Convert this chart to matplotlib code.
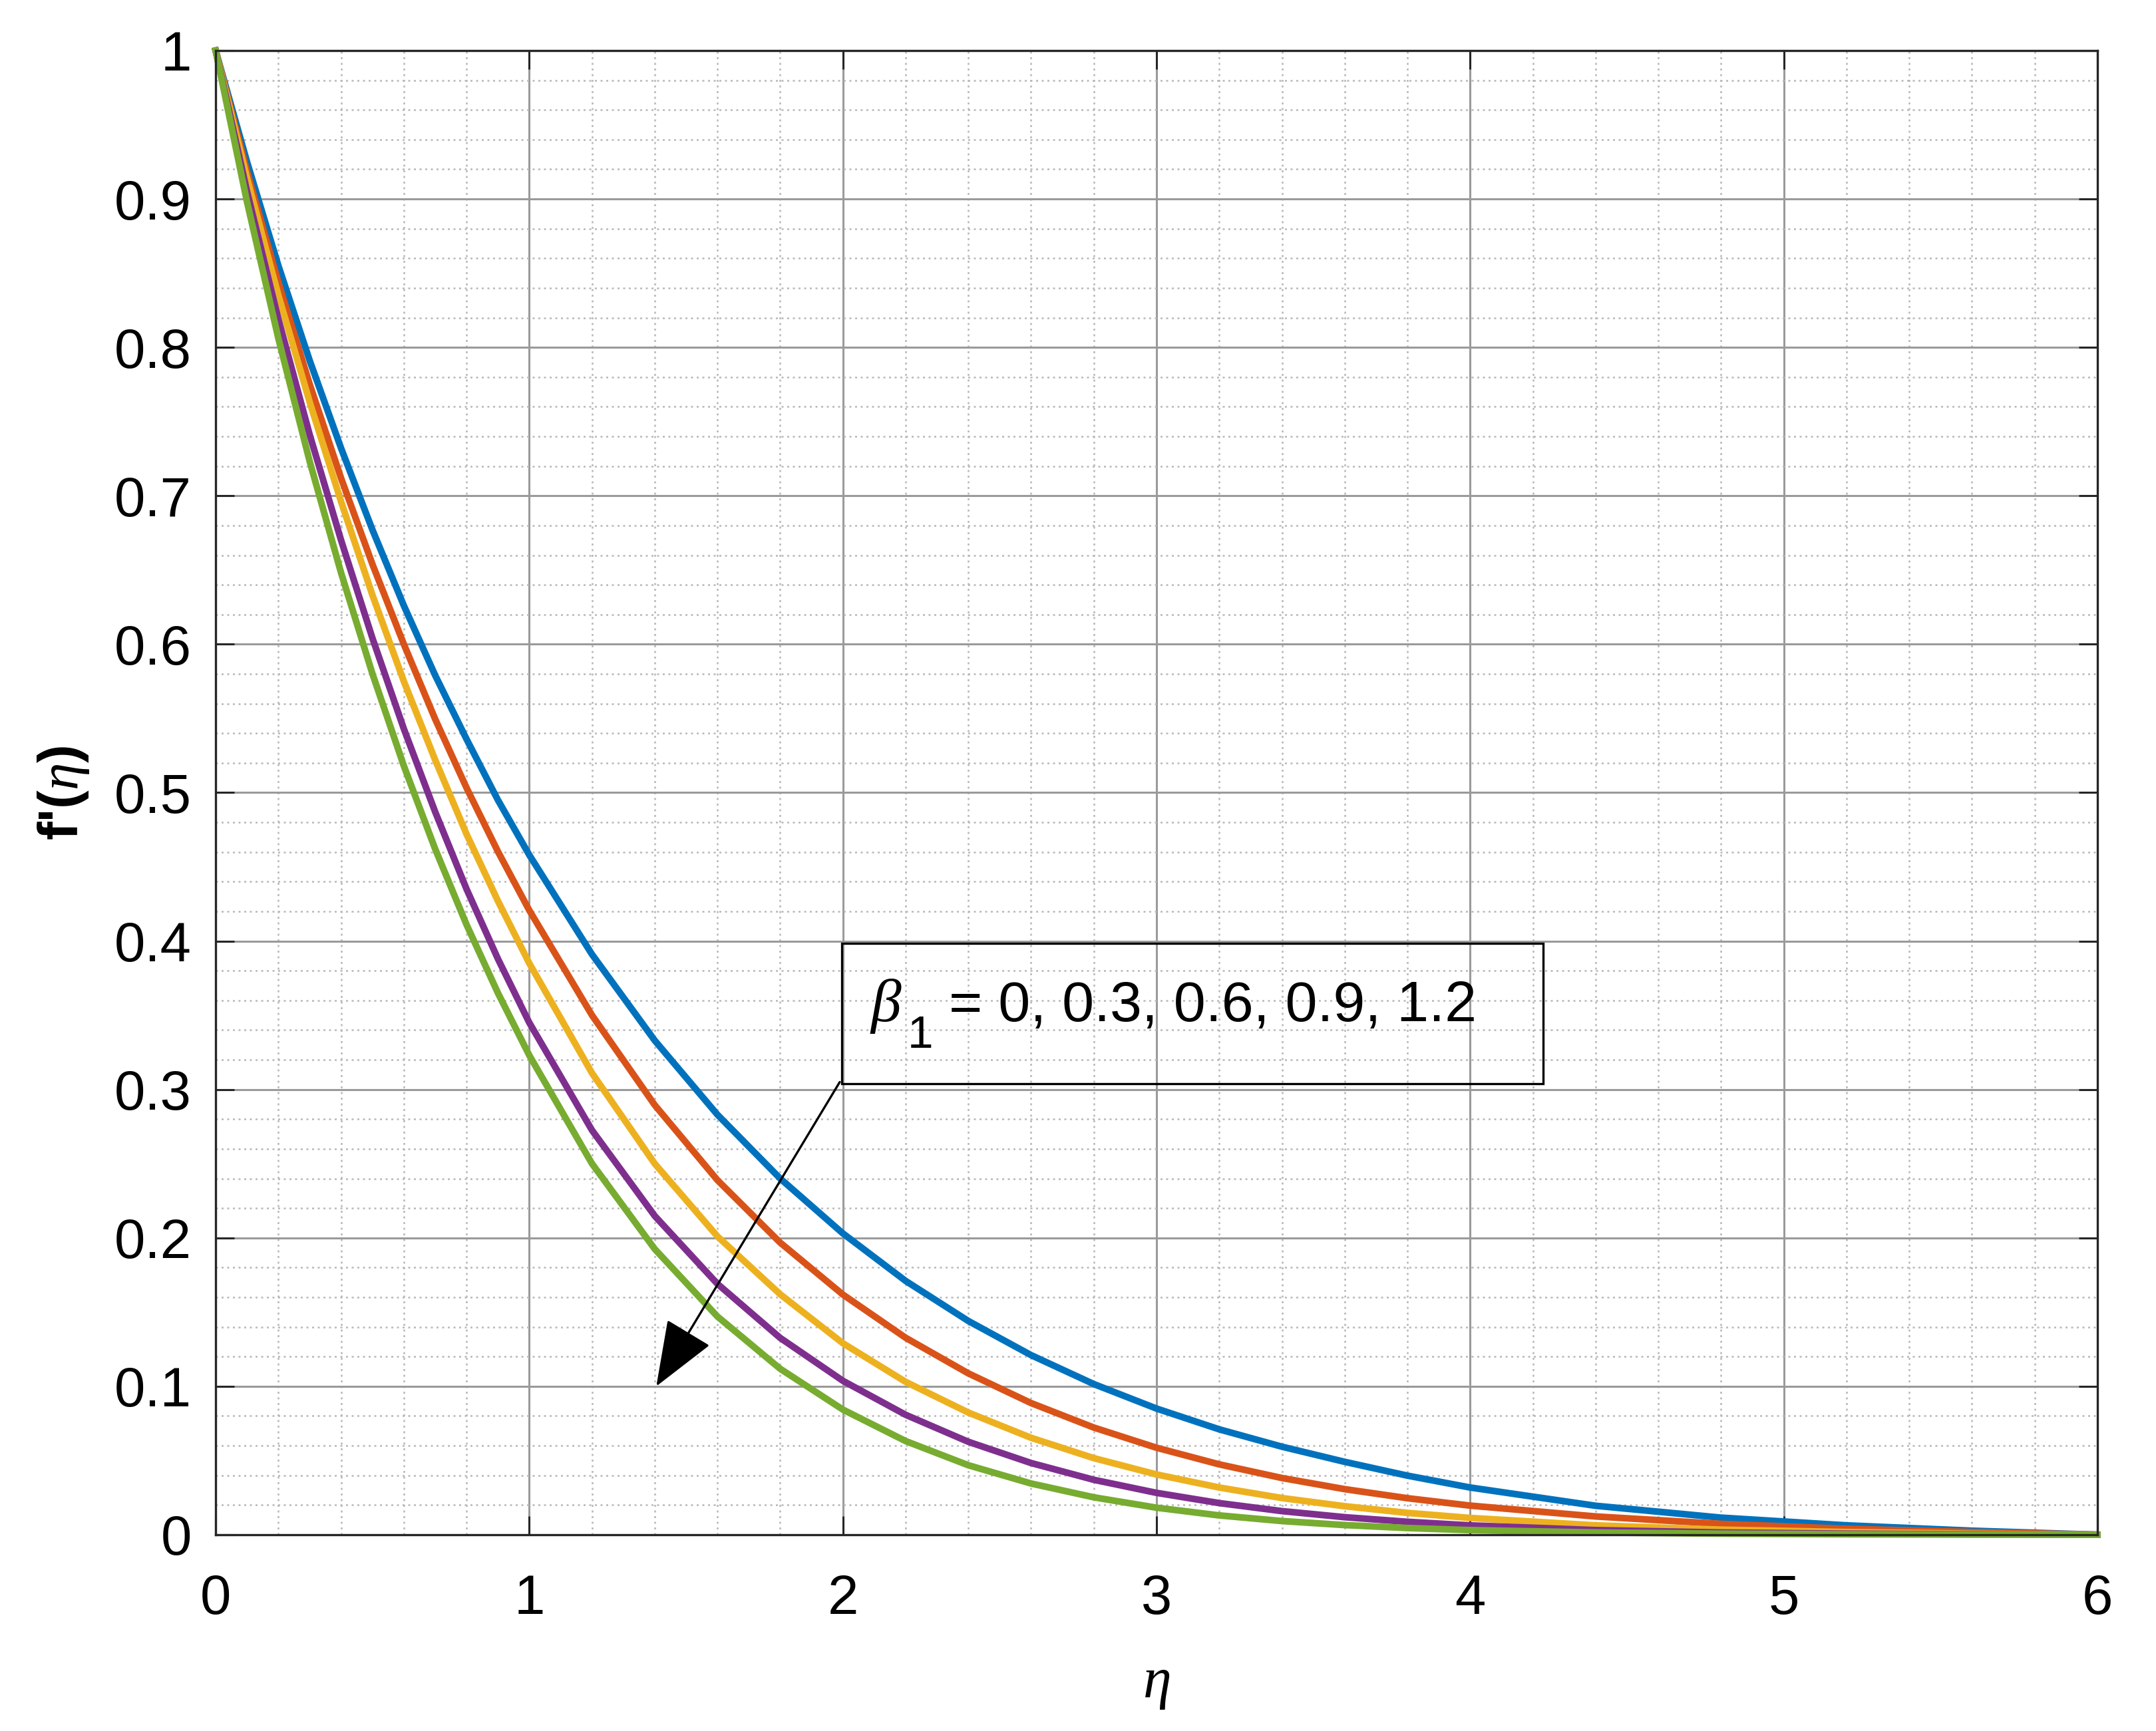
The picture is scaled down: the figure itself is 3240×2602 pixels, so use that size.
import matplotlib
matplotlib.use('Agg')
import matplotlib.pyplot as plt
from matplotlib.ticker import MultipleLocator, FuncFormatter
from matplotlib.patches import Rectangle

plt.rcParams['font.family'] = ['Liberation Sans', 'DejaVu Sans']
plt.rcParams['mathtext.fontset'] = 'custom'
plt.rcParams['mathtext.rm'] = 'Liberation Sans'
plt.rcParams['mathtext.it'] = 'Liberation Serif:italic'
plt.rcParams['mathtext.bf'] = 'Liberation Sans:bold'

# values
eta = [0, 0.1, 0.2, 0.3, 0.4, 0.5, 0.6, 0.7, 0.8, 0.9, 1.0, 1.2, 1.4, 1.6, 1.8,
       2.0, 2.2, 2.4, 2.6, 2.8, 3.0, 3.2, 3.4, 3.6, 3.8, 4.0, 4.4, 4.8, 5.2, 5.6, 6.0]

fp_beta_0 = [1, 0.925, 0.855, 0.791, 0.732, 0.677, 0.626, 0.579, 0.536, 0.495, 0.458,
             0.391, 0.333, 0.283, 0.240, 0.203, 0.171, 0.144, 0.121, 0.1015, 0.085,
             0.071, 0.0593, 0.0491, 0.0398, 0.0318, 0.0195, 0.0115, 0.0063, 0.0027, 0.0]
fp_beta_03 = [1, 0.9185, 0.8437, 0.775, 0.7118, 0.6538, 0.600, 0.5495, 0.5032, 0.4603, 0.4207,
              0.350, 0.2895, 0.2389, 0.1968, 0.1618, 0.1327, 0.1087, 0.0887, 0.0722, 0.0586,
              0.0474, 0.0382, 0.0307, 0.0246, 0.0196, 0.0123, 0.0073, 0.004, 0.0018, 0.0]
fp_beta_06 = [1, 0.914, 0.835, 0.763, 0.696, 0.633, 0.575, 0.522, 0.472, 0.427, 0.385,
              0.311, 0.250, 0.201, 0.162, 0.129, 0.103, 0.0823, 0.0653, 0.0516, 0.0406,
              0.0318, 0.0247, 0.0192, 0.0147, 0.0113, 0.0063, 0.0034, 0.0018, 0.0007, 0.0]
fp_beta_09 = [1, 0.905, 0.819, 0.741, 0.670, 0.604, 0.543, 0.487, 0.435, 0.388, 0.345,
              0.2725, 0.2148, 0.169, 0.1326, 0.1037, 0.0808, 0.0626, 0.0483, 0.037, 0.0282,
              0.0213, 0.0159, 0.0118, 0.0087, 0.0063, 0.0031, 0.0015, 0.0007, 0.0003, 0.0]
fp_beta_12 = [1, 0.898, 0.806, 0.723, 0.648, 0.580, 0.518, 0.462, 0.411, 0.365, 0.323,
              0.250, 0.1925, 0.147, 0.1118, 0.0843, 0.0631, 0.0468, 0.0345, 0.0252, 0.0182,
              0.013, 0.0092, 0.0065, 0.0045, 0.0031, 0.0015, 0.0007, 0.0003, 0.0001, 0.0]

series = [fp_beta_0, fp_beta_03, fp_beta_06, fp_beta_09, fp_beta_12]
colors = ['#0072BD', '#D95319', '#EDB120', '#7E2F8E', '#77AC30']

beta_sym = r"$\beta$"
beta_sub = "1"
beta_values = "= 0, 0.3, 0.6, 0.9, 1.2"

fig = plt.figure(figsize=(16.205, 13.01), dpi=200)
ax = fig.add_axes([0.1, 0.1134, 0.8725, 0.8574])

ax.set_axisbelow(True)
ax.xaxis.set_major_locator(MultipleLocator(1))
ax.xaxis.set_minor_locator(MultipleLocator(0.2))
ax.yaxis.set_major_locator(MultipleLocator(0.1))
ax.yaxis.set_minor_locator(MultipleLocator(0.02))
ax.grid(which='major', color='#9a9a9a', lw=1.1, ls='-')
ax.grid(which='minor', color='#b8b8b8', lw=0.9, ls=(0, (1.2, 2.2)))

for ys, c in zip(series, colors):
    ax.plot(eta, ys, color=c, lw=3.6, clip_on=False, solid_joinstyle='round')

ax.set_xlim(0, 6)
ax.set_ylim(0, 1)

fmt = FuncFormatter(lambda v, p: '%g' % round(v, 2))
ax.xaxis.set_major_formatter(fmt)
ax.yaxis.set_major_formatter(fmt)

ax.tick_params(which='major', direction='in', length=10, width=1.1, color='#262626',
               labelsize=30, top=True, right=True)
ax.tick_params(axis='x', which='major', pad=21)
ax.tick_params(axis='y', which='major', pad=13)
ax.tick_params(which='minor', length=0)
for s in ax.spines.values():
    s.set_color('#262626')
    s.set_linewidth(1.2)

ax.set_xlabel(r"$\eta$", fontsize=31)
ax.xaxis.set_label_coords(0.5, -0.083)
ax.set_ylabel("f'(" + r"$\eta$" + ")", fontsize=30, fontweight='bold')
ax.yaxis.set_label_coords(-0.066, 0.5)

# annotation box, label and arrow
ax.add_patch(Rectangle((1.996, 0.304), 2.236, 0.0945, fill=False, ec='black', lw=1.2))
ax.text(2.085, 0.346, beta_sym, fontsize=33, ha='left', va='baseline')
ax.text(2.205, 0.328, beta_sub, fontsize=25, ha='left', va='baseline')
ax.text(2.339, 0.346, beta_values, fontsize=31, ha='left', va='baseline')
ax.annotate('', xy=(1.405, 0.1), xytext=(1.99, 0.305),
            arrowprops=dict(arrowstyle='-|>,head_length=0.9,head_width=0.35',
                            lw=1.2, color='black', mutation_scale=35,
                            shrinkA=0, shrinkB=0))

fig.savefig('out.png', dpi=200)
